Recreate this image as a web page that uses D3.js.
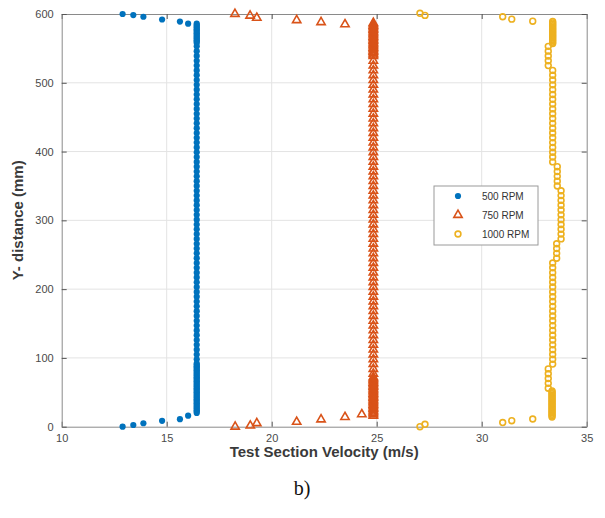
<!DOCTYPE html>
<html>
<head>
<meta charset="utf-8">
<script src="https://cdn.jsdelivr.net/npm/d3@7"></script>
<style>
  html, body { margin: 0; padding: 0; background: #fff; }
  svg { display: block; }
</style>
</head>
<body>
<svg id="chart" width="605" height="518"></svg>
<script>
// ---------------- DATA ----------------
const xTicks = [10, 15, 20, 25, 30, 35];
const yTicks = [0, 100, 200, 300, 400, 500, 600];
const seriesNames = ["500 RPM", "750 RPM", "1000 RPM"];

// 500 RPM : near-wall points (velocity, depth)
const wall500Vel   = [12.90, 13.41, 13.89, 14.78, 15.63, 16.02, 12.90, 13.41, 13.89, 14.78, 15.63, 16.02];
const wall500Depth = [600, 598.5, 596, 592, 589, 586, 0, 2.5, 5, 8.5, 11, 16];
// 500 RPM : core column
const core500Vel = 16.43;
const core500Depth = [586,584,582,580,578,576,574,572,570,568,566,564,562,560,558,
  553,546,539,532,525,518,511,504,497,490,483,476,469,462,455,448,441,434,427,420,413,406,399,392,385,
  378,371,364,357,350,343,336,329,322,315,308,301,294,287,280,273,266,259,252,245,238,231,224,217,210,
  203,196,189,182,175,168,161,154,147,140,133,126,119,112,105,98,
  92,90,88,86,84,82,80,78,76,74,72,70,68,66,64,62,60,58,56,54,52,50,48,46,44,42,40,38,36,34,32,30,28,26,24,22,20];

// 750 RPM : near-wall points
const wall750Vel   = [18.25, 18.97, 19.29, 21.19, 22.35, 23.49, 18.26, 18.98, 19.29, 21.19, 22.35, 23.49, 24.29];
const wall750Depth = [600, 597.5, 594.5, 591, 588, 585, 0, 1.5, 5, 7, 10.5, 14, 18];
// 750 RPM : core column
const core750Vel = 24.84;
const core750Depth = [587,585,583,581,579,577,575,573,571,569,567,565,563,561,559,557,555,553,551,549,547,545,543,541,539,
  532,525,518,511,504,497,490,483,476,469,462,455,448,441,434,427,420,413,406,399,392,385,
  378,371,364,357,350,343,336,329,322,315,308,301,294,287,280,273,266,259,252,245,238,231,224,217,210,
  203,196,189,182,175,168,161,154,147,140,133,126,119,112,105,98,91,84,77,
  72,70,68,66,64,62,60,58,56,54,52,50,48,46,44,42,40,38,36,34,32,30,28,26,24,22,20,18,16];

// 1000 RPM : near-wall points
const wall1000Vel   = [27.06, 27.30, 31.00, 31.43, 32.43, 27.06, 27.30, 31.00, 31.43, 32.43];
const wall1000Depth = [601, 598, 596, 592.5, 589.5, 0, 3.5, 6, 8.7, 11.2];
// 1000 RPM : core column (profile varies slightly)
const core1000Depth = [589,587,585,583,581,579,577,575,573,571,569,567,565,563,561,559,557,
  553,546,539,532,525,
  518,511,504,497,490,483,476,469,462,455,448,441,434,427,420,413,406,399,392,385,
  378,371,364,357,350,
  343,336,329,322,315,308,301,294,287,280,273,
  266,259,252,245,
  238,231,224,217,210,203,196,189,182,175,168,161,154,147,140,133,126,119,112,105,98,91,
  84,77,70,63,56,
  52,50,48,46,44,42,40,38,36,34,32,30,28,26,24,22,20,18,16,14];
const core1000Vel = [33.38,33.38,33.38,33.38,33.38,33.38,33.38,33.38,33.38,33.38,33.38,33.38,33.38,33.38,33.38,33.38,33.38,
  33.17,33.17,33.17,33.17,33.17,
  33.38,33.38,33.38,33.38,33.38,33.38,33.38,33.38,33.38,33.38,33.38,33.38,33.38,33.38,33.38,33.38,33.38,33.38,33.38,33.38,
  33.60,33.60,33.60,33.60,33.60,
  33.78,33.78,33.78,33.78,33.78,33.78,33.78,33.78,33.78,33.78,33.78,
  33.57,33.57,33.57,33.57,
  33.38,33.38,33.38,33.38,33.38,33.38,33.38,33.38,33.38,33.38,33.38,33.38,33.38,33.38,33.38,33.38,33.38,33.38,33.38,33.38,33.38,33.38,
  33.17,33.17,33.17,33.17,33.17,
  33.35,33.35,33.35,33.35,33.35,33.35,33.35,33.35,33.35,33.35,33.35,33.35,33.35,33.35,33.35,33.35,33.35,33.35,33.35,33.35];

// ---------------- BUILD POINT LISTS ----------------
const pts500 = wall500Vel.map((v, i) => [v, wall500Depth[i]])
  .concat(core500Depth.map(d => [core500Vel, d]));
const pts750 = wall750Vel.map((v, i) => [v, wall750Depth[i]])
  .concat(core750Depth.map(d => [core750Vel, d]));
const pts1000 = wall1000Vel.map((v, i) => [v, wall1000Depth[i]])
  .concat(core1000Vel.map((v, i) => [v, core1000Depth[i]]));

// ---------------- STYLE ----------------
const colors = ["#0072BD", "#D95319", "#EDB120"];
const svg = d3.select("#chart");
const L = 61.7, R = 586.7, T = 14, B = 426.7;
const x = d3.scaleLinear().domain([10, 35]).range([L, R]);
const y = d3.scaleLinear().domain([0, 600]).range([B, T]);
const font = "'Liberation Sans', Arial, Helvetica, sans-serif";

// grid
const grid = svg.append("g");
grid.selectAll("line.gx").data(xTicks.slice(1, -1)).join("line")
  .attr("x1", d => x(d)).attr("x2", d => x(d)).attr("y1", T).attr("y2", B)
  .attr("stroke", "#e3e3e3").attr("stroke-width", 1);
grid.selectAll("line.gy").data(yTicks.slice(1, -1)).join("line")
  .attr("x1", L).attr("x2", R).attr("y1", d => y(d)).attr("y2", d => y(d))
  .attr("stroke", "#e3e3e3").attr("stroke-width", 1);

// axes
const axColor = "#8a8a8a";
const gx = svg.append("g").attr("transform", `translate(0,${B})`)
  .call(d3.axisBottom(x).tickValues(xTicks).tickSizeInner(-5).tickSizeOuter(0).tickPadding(8));
const gxTop = svg.append("g").attr("transform", `translate(0,${T})`)
  .call(d3.axisTop(x).tickValues(xTicks).tickSizeInner(-5).tickSizeOuter(0).tickFormat(""));
const gy = svg.append("g").attr("transform", `translate(${L},0)`)
  .call(d3.axisLeft(y).tickValues(yTicks).tickSizeInner(-5).tickSizeOuter(0).tickPadding(8));
const gyR = svg.append("g").attr("transform", `translate(${R},0)`)
  .call(d3.axisRight(y).tickValues(yTicks).tickSizeInner(-5).tickSizeOuter(0).tickFormat(""));
[gx, gxTop, gy, gyR].forEach(g => {
  g.select(".domain").attr("stroke", axColor).attr("stroke-width", 1);
  g.selectAll(".tick line").attr("stroke", "#555").attr("stroke-width", 1);
  g.selectAll("text").attr("fill", "#4a4a4a").style("font-family", font).style("font-size", "11px");
});

// series
const gData = svg.append("g");
gData.selectAll("circle.s500").data(pts500).join("circle")
  .attr("cx", d => x(d[0])).attr("cy", d => y(d[1])).attr("r", 3.1)
  .attr("fill", colors[0]);
const tri = d3.symbol().type(d3.symbolTriangle).size(30);
gData.selectAll("path.s750").data(pts750).join("path")
  .attr("d", tri).attr("transform", d => `translate(${x(d[0])},${y(d[1])})`)
  .attr("fill", "none").attr("stroke", colors[1]).attr("stroke-width", 1.6);
gData.selectAll("circle.s1000").data(pts1000).join("circle")
  .attr("cx", d => x(d[0])).attr("cy", d => y(d[1])).attr("r", 2.9)
  .attr("fill", "none").attr("stroke", colors[2]).attr("stroke-width", 1.6);

// axis titles
svg.append("text").attr("x", (L + R) / 2).attr("y", 457).attr("text-anchor", "middle")
  .style("font-family", font).style("font-size", "15px").style("font-weight", "bold")
  .attr("fill", "#3a3a3a").text("Test Section Velocity (m/s)");
svg.append("text").attr("transform", `translate(23,${(T + B) / 2}) rotate(-90)`)
  .attr("text-anchor", "middle")
  .style("font-family", font).style("font-size", "15px").style("font-weight", "bold")
  .attr("fill", "#3a3a3a").text("Y- distance (mm)");

// legend
const lg = svg.append("g");
lg.append("rect").attr("x", 434).attr("y", 186).attr("width", 104).attr("height", 59)
  .attr("fill", "#fff").attr("stroke", "#9a9a9a").attr("stroke-width", 1);
const rows = [196, 215, 234];
lg.append("circle").attr("cx", 458).attr("cy", rows[0]).attr("r", 3.1).attr("fill", colors[0]);
lg.append("path").attr("d", tri).attr("transform", `translate(458,${rows[1]})`)
  .attr("fill", "none").attr("stroke", colors[1]).attr("stroke-width", 1.6);
lg.append("circle").attr("cx", 458).attr("cy", rows[2]).attr("r", 2.9)
  .attr("fill", "none").attr("stroke", colors[2]).attr("stroke-width", 1.6);
lg.selectAll("text.lt").data(seriesNames).join("text")
  .attr("x", 482).attr("y", (d, i) => rows[i] + 3.5)
  .style("font-family", font).style("font-size", "10px").attr("fill", "#333").text(d => d);

// caption
svg.append("text").attr("x", 302).attr("y", 495).attr("text-anchor", "middle")
  .style("font-family", "'Liberation Serif', 'Times New Roman', serif").style("font-size", "20px")
  .attr("fill", "#111").text("b)");
</script>
</body>
</html>
